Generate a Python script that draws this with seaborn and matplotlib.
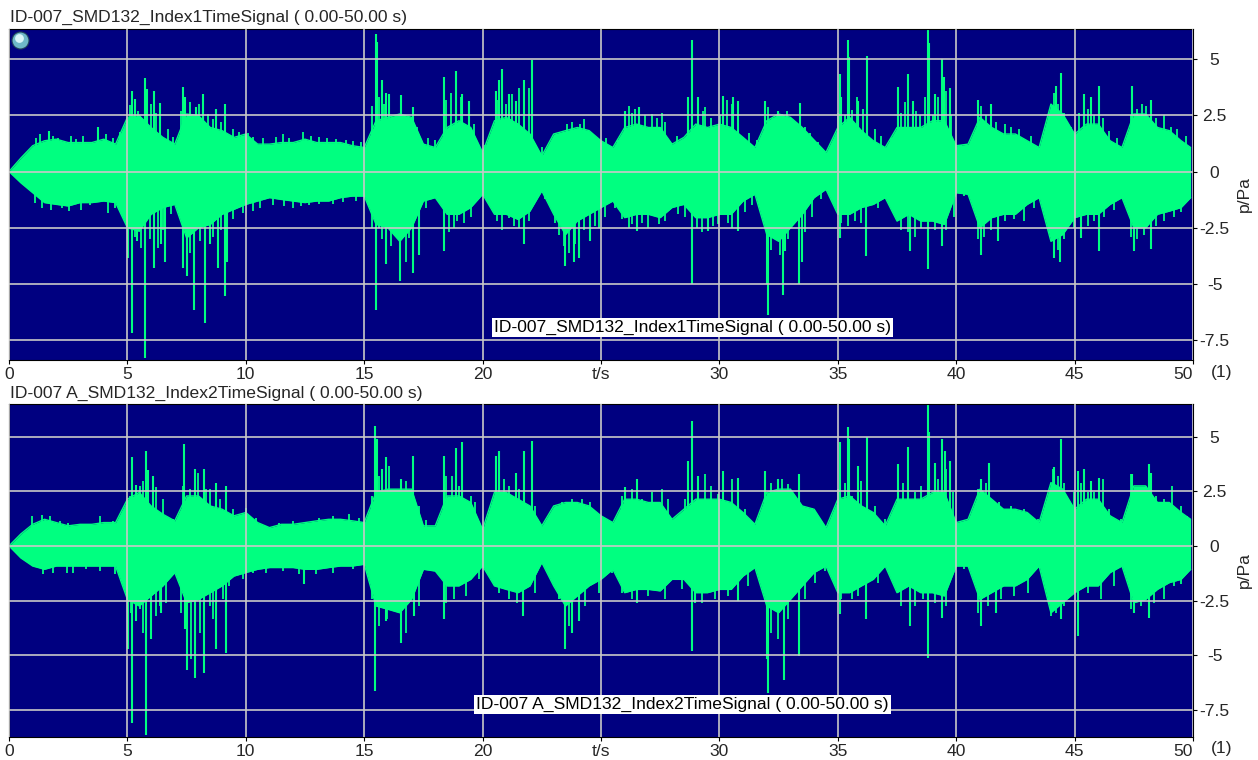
import numpy as np
import seaborn as sns
import matplotlib.pyplot as plt

sns.set_style('white')
plt.rcParams['font.family'] = ['Liberation Sans', 'DejaVu Sans']

BG = '#000080'
SIG = '#00FF80'
GRID = '#C8C8C8'

# envelope sample times (s)
env_t = np.append(np.arange(0, 50, 0.5), 49.9)

# ---------------- channel 1 ----------------
upper1 = [0, 0.6, 1.15, 1.37, 1.44, 1.29, 1.29, 1.29, 1.44, 1.22,
          2.41, 2.49, 1.96, 1.52, 1.22, 2.56, 2.49, 1.96, 1.82, 1.52,
          1.67, 1.22, 1.22, 1.29, 1.29, 1.44, 1.29, 1.29, 1.29, 1.15,
          1.07, 2.26, 2.41, 2.56, 2.41, 1.22, 1.07, 1.96, 2.26, 1.96,
          0.85, 2.26, 2.41, 2.11, 1.67, 0.70, 1.67, 1.82, 1.96, 1.82,
          1.37, 1.07, 1.96, 2.11, 1.96, 1.96, 1.22, 1.52, 2.11, 1.96,
          2.11, 1.96, 1.52, 1.07, 2.26, 2.56, 2.41, 1.96, 1.40, 0.85,
          1.96, 2.41, 1.82, 1.37, 1.07, 1.96, 1.96, 1.96, 2.26, 2.26,
          1.15, 1.22, 2.41, 1.96, 1.67, 1.67, 1.37, 1.07, 3.00, 2.56,
          1.67, 2.11, 2.11, 1.37, 1.07, 2.56, 2.56, 1.96, 1.82, 1.37,
          1.07]
lower1 = [0, -0.5, -0.94, -1.38, -1.46, -1.53, -1.38, -1.38, -1.31, -1.38,
          -2.5, -2.65, -1.9, -1.6, -1.46, -2.95, -2.5, -2.35, -1.9, -1.68,
          -1.46, -1.31, -1.16, -1.24, -1.31, -1.38, -1.31, -1.31, -1.16, -1.09,
          -1.09, -2.35, -2.5, -3.1, -2.5, -1.31, -1.16, -1.9, -1.9, -1.6,
          -1.01, -1.9, -1.9, -2.13, -1.76, -0.86, -1.9, -2.8, -2.2, -1.9,
          -1.6, -1.31, -2.05, -1.9, -1.9, -2.05, -1.6, -1.46, -2.05, -2.05,
          -1.9, -1.9, -1.31, -1.01, -2.8, -3.1, -2.5, -1.9, -1.16, -0.79,
          -1.9, -1.9, -1.6, -1.46, -1.16, -2.2, -1.9, -2.2, -2.2, -2.35,
          -0.94, -1.01, -2.5, -2.05, -1.9, -1.9, -1.46, -1.16, -3.1, -2.8,
          -2.05, -1.9, -1.9, -1.46, -1.16, -2.5, -2.5, -1.9, -1.76, -1.6,
          -1.16]

# big peaks
peak_up1_t = [1.70, 3.74, 5.21, 5.31, 5.76, 5.81, 6.11, 6.36, 7.35, 7.44, 7.88, 8.19,
              8.75, 9.14, 15.49, 15.53, 15.74, 15.91, 16.05, 16.55, 17.06, 18.37,
              18.86, 19.14, 19.42, 20.55, 20.69, 20.83, 21.11, 21.39, 21.74, 22.07,
              26.03, 26.59, 28.69, 28.83, 29.10, 30.17, 30.59, 30.80, 31.92, 32.49,
              33.40, 35.08, 35.15, 35.41, 35.47, 35.86, 36.25, 37.54, 37.96, 38.17,
              38.81, 38.85, 39.09, 39.41, 39.48, 39.72, 40.90, 41.46, 44.21, 44.42,
              45.41, 45.69, 46.04, 47.44, 48.22]
peak_up1_v = [1.82, 2.0, 3.6, 3.24, 4.17, 3.69, 3.6, 3.04, 3.75, 3.3, 2.86, 3.45,
              2.8, 3.0, 6.13, 5.75, 4.05, 3.5, 3.45, 3.4, 2.86, 4.2,
              4.46, 3.45, 3.15, 3.6, 4.05, 4.55, 3.45, 3.15, 4.05, 4.94,
              2.68, 2.86, 3.3, 5.83, 3.3, 3.38, 3.3, 3.15, 3.15, 2.7,
              3.07, 4.35, 3.3, 5.83, 5.1, 3.15, 5.15, 3.75, 4.35, 3.15,
              6.37, 5.7, 3.45, 5.0, 4.2, 3.7, 3.2, 3.0, 3.8, 4.4,
              3.45, 3.3, 3.8, 3.8, 3.2]
peak_dn1_t = [5.04, 5.21, 5.39, 5.76, 6.11, 6.43, 6.60, 7.35, 7.53, 7.81, 8.26, 8.47,
              8.82, 9.14, 9.21, 15.49, 15.63, 15.94, 16.52, 17.06, 17.32, 18.37,
              21.74, 23.50, 23.85, 24.06, 24.55, 26.52, 28.83, 29.53, 30.80, 32.00,
              32.07, 32.70, 32.77, 33.37, 33.47, 35.08, 36.21, 38.03, 38.81, 39.40,
              41.06, 41.75, 44.14, 44.39, 45.27, 46.04, 47.52, 48.22]
peak_dn1_v = [-3.85, -7.2, -3.1, -8.3, -4.3, -3.24, -4.0, -4.3, -4.65, -6.15, -6.74, -3.24,
              -4.3, -5.55, -4.0, -6.15, -2.5, -4.13, -4.88, -4.52, -3.7, -3.55,
              -3.24, -4.2, -4.0, -3.85, -3.1, -2.65, -5.0, -2.65, -2.65, -5.0,
              -6.37, -5.48, -3.55, -5.0, -4.0, -2.95, -3.75, -3.55, -4.35, -3.3,
              -3.7, -3.1, -3.85, -4.0, -2.95, -3.55, -3.55, -3.45]

# smaller hairs along the envelope
hair_up1_t = [1.14, 1.33, 1.87, 2.08, 2.6, 2.85, 3.13, 4.09, 4.4, 4.7,
              5.1, 5.45, 6.01, 6.22, 6.71, 6.92, 7.28, 7.63, 8.02, 8.4,
              8.61, 8.96, 9.45, 9.73, 10.08, 10.29, 10.72, 11.28, 11.56, 11.84,
              12.4, 12.75, 13.1, 13.45, 13.8, 14.23, 14.51, 14.86, 15.35, 15.63,
              15.84,
              16.68, 17.25, 17.7, 18.0, 18.44, 18.65, 19.08, 19.63, 20.1, 20.61,
              20.97, 21.25, 21.53, 21.96, 22.5, 23.57, 23.78, 24.13, 24.27, 25.2,
              25.7, 26.17, 26.31, 26.45, 26.87, 27.15, 27.36, 27.57, 27.71, 28.2,
              29.32, 29.39, 29.66, 30.03, 30.31, 30.52, 31.23, 31.6, 32.06, 32.27,
              32.63, 32.84,
              33.61, 33.82, 34.17, 34.8, 35.0, 35.29, 35.58, 35.79, 36.07, 36.56,
              36.84, 37.26, 37.69, 37.83, 38.32, 38.46, 38.67, 39.02, 39.23, 39.58,
              39.8, 40.2, 40.63, 41.06, 41.27, 41.69, 42.04, 42.32, 42.67, 43.16,
              43.72, 44.14, 44.28, 44.56, 44.85, 45.2, 45.55, 45.83, 46.18, 46.46,
              46.81, 47.23, 47.37, 47.65, 47.86, 48.0, 48.42, 48.78, 49.06, 49.34,
              49.69]
hair_up1_v = [1.5, 1.67, 1.6, 1.5, 1.6, 1.45, 1.6, 1.65, 1.5, 1.75,
              2.95, 2.7, 3.0, 2.6, 1.9, 1.55, 2.7, 3.1, 3.0, 2.55,
              2.35, 2.2, 1.9, 1.75, 1.7, 1.55, 1.5, 1.55, 1.65, 1.5,
              1.75, 1.6, 1.55, 1.5, 1.45, 1.4, 1.35, 1.3, 2.9, 3.3,
              3.0,
              2.4, 2.0, 1.5, 1.4, 3.2, 3.5, 3.3, 2.1, 1.2, 3.2,
              3.0, 3.45, 3.7, 3.7, 1.1, 2.1, 2.2, 2.1, 2.35, 1.5,
              1.4, 2.9, 2.6, 2.8, 2.5, 2.55, 2.4, 2.6, 2.2, 1.6,
              2.7, 2.85, 2.4, 2.5, 3.2, 3.0, 1.7, 1.4, 2.85, 2.4,
              2.55, 2.7,
              2.0, 1.7, 1.3, 1.1, 2.6, 2.5, 2.75, 3.3, 2.8, 1.9,
              1.6, 1.5, 2.6, 3.1, 2.7, 2.5, 3.3, 2.5, 3.3, 3.6,
              2.5, 1.2, 1.2, 2.9, 2.5, 2.2, 2.1, 2.0, 1.9, 1.6,
              1.3, 3.5, 3.0, 2.6, 2.0, 2.6, 2.8, 2.5, 2.4, 1.8,
              1.5, 1.4, 2.5, 2.8, 3.0, 2.9, 2.4, 2.5, 2.0, 1.9,
              1.6]
hair_dn1_t = [1.08, 1.38, 1.76, 2.22, 2.54, 3.06, 3.41, 4.19, 4.47, 4.89,
              5.31, 5.59, 5.94, 6.29, 6.5, 6.85, 7.2, 7.63, 8.05, 8.61,
              8.96, 9.45, 9.87, 10.29, 10.58, 11.14, 11.63, 11.98, 12.33, 12.68,
              13.1, 13.67, 14.09, 14.65, 15.35, 15.77, 16.12,
              16.76, 16.9, 17.6, 18.58, 18.8, 18.94, 19.2, 19.5, 20.2, 20.61,
              20.83, 21.11, 21.32, 21.53, 21.96, 22.65, 23.07, 23.21, 23.43, 23.64,
              23.92, 24.27, 24.76, 24.9, 25.18, 25.61, 25.89, 26.17, 26.31, 26.73,
              27.0, 27.43, 27.71, 28.27, 28.55, 29.04, 29.25, 29.75, 29.96, 30.38,
              30.52, 31.08, 31.36, 31.78, 32.2, 32.41, 32.55, 32.9,
              33.61, 33.89, 34.31, 35.15, 35.43, 35.72, 36.0, 36.7, 37.4, 37.69,
              37.96, 38.24, 38.53, 39.09, 39.58, 39.89, 40.35, 40.9, 41.19, 41.46,
              42.04, 42.46, 42.88, 43.3, 44.0, 44.28, 44.56, 44.97, 45.55, 45.83,
              46.25, 46.67, 47.37, 47.65, 47.93, 48.42, 48.78, 49.2, 49.48]
hair_dn1_v = [-1.38, -1.6, -1.73, -1.6, -1.75, -1.7, -1.5, -1.83, -1.6, -1.5,
              -2.9, -3.4, -3.0, -3.4, -2.6, -1.9, -1.7, -3.6, -3.1, -2.9,
              -2.6, -2.1, -1.85, -1.75, -1.6, -1.5, -1.55, -1.6, -1.55, -1.5,
              -1.45, -1.45, -1.35, -1.3, -2.5, -3.0, -3.3,
              -4.0, -2.95, -1.6, -2.7, -2.5, -2.2, -2.3, -2.0, -1.3, -2.2,
              -2.6, -2.05, -2.4, -2.5, -2.2, -1.2, -2.3, -2.8, -3.3, -3.6,
              -3.2, -2.6, -2.4, -2.5, -2.0, -1.6, -2.1, -2.5, -2.35, -2.3,
              -2.5, -2.35, -2.2, -1.9, -2.0, -2.5, -2.7, -2.4, -2.35, -2.3,
              -2.5, -1.8, -1.5, -1.4, -3.5, -3.0, -3.7, -3.0,
              -2.7, -2.0, -1.2, -2.3, -2.4, -2.2, -2.3, -1.6, -1.5, -2.6,
              -2.7, -2.9, -2.5, -2.6, -2.6, -2.0, -1.1, -3.0, -2.9, -2.6,
              -2.2, -2.1, -2.2, -1.6, -2.9, -3.5, -3.0, -2.5, -2.4, -2.2,
              -2.0, -1.7, -2.9, -3.0, -2.8, -2.4, -2.2, -2.0, -1.8]

# ---------------- channel 2 ----------------
upper2 = [0, 0.55, 0.99, 1.22, 1.07, 0.92, 0.99, 0.99, 1.07, 1.07,
          2.14, 2.45, 1.83, 1.45, 1.15, 2.29, 2.29, 1.83, 1.68, 1.38,
          1.53, 1.07, 0.84, 0.99, 0.99, 1.07, 1.15, 1.22, 1.22, 1.15,
          1.07, 2.45, 2.6, 2.6, 2.6, 0.92, 0.92, 2.29, 2.29, 1.99,
          0.76, 2.45, 2.45, 2.14, 1.83, 0.92, 1.83, 1.99, 1.99, 1.83,
          1.38, 1.07, 2.14, 2.14, 1.99, 1.99, 1.22, 1.68, 2.14, 2.14,
          2.14, 1.99, 1.53, 0.99, 2.45, 2.6, 2.6, 1.83, 1.68, 0.84,
          2.14, 2.29, 1.83, 1.53, 0.92, 2.14, 2.14, 2.14, 2.45, 2.45,
          1.07, 1.22, 2.6, 2.14, 1.68, 1.68, 1.53, 1.07, 2.9, 2.6,
          1.68, 2.14, 2.14, 1.38, 1.07, 2.75, 2.75, 1.99, 1.99, 1.53,
          1.22]
lower2 = [0, -0.55, -0.92, -1.07, -0.92, -0.92, -0.92, -0.92, -0.92, -0.92,
          -2.45, -2.75, -2.29, -1.83, -1.22, -2.6, -2.45, -2.14, -1.83, -1.38,
          -1.22, -1.07, -0.99, -0.99, -0.99, -1.07, -1.07, -0.99, -0.92, -0.92,
          -0.84, -2.75, -2.9, -3.06, -2.45, -1.07, -1.15, -1.83, -1.83, -1.53,
          -0.92, -1.83, -1.99, -2.14, -1.83, -0.76, -1.83, -2.75, -2.29, -1.83,
          -1.53, -1.07, -2.14, -1.99, -1.99, -2.06, -1.53, -1.53, -2.14, -2.14,
          -1.99, -1.99, -1.38, -0.99, -2.75, -3.06, -2.45, -1.83, -1.22, -0.92,
          -2.14, -2.14, -1.83, -1.53, -0.92, -2.14, -1.83, -2.14, -2.14, -2.29,
          -0.92, -0.92, -2.45, -2.14, -1.83, -1.83, -1.53, -0.92, -3.06, -2.6,
          -2.14, -1.83, -1.83, -1.22, -0.92, -2.6, -2.45, -1.99, -1.68, -1.53,
          -1.07]

peak_up2_t = [5.21, 5.35, 5.80, 5.87, 6.08, 7.39, 7.84, 8.22, 8.75, 9.17, 15.46, 15.52,
              15.74, 15.91, 16.54, 17.08, 18.37, 18.89, 19.14, 20.55, 20.69, 21.39,
              21.74, 22.07, 26.03, 26.52, 28.69, 28.83, 29.10, 30.17, 30.77, 31.92,
              32.49, 33.37, 35.08, 35.41, 35.47, 35.86, 36.22, 37.54, 37.96, 38.81,
              38.85, 39.09, 39.41, 39.51, 39.72, 41.05, 41.40, 44.14, 44.42, 45.13,
              45.41, 45.69, 46.04, 47.44, 48.15, 48.22]
peak_up2_v = [4.05, 2.8, 4.36, 3.46, 3.21, 4.66, 3.52, 3.52, 2.9, 2.75, 5.5, 4.9,
              3.52, 4.05, 3.06, 4.13, 4.13, 4.5, 4.74, 4.13, 4.36, 3.36,
              4.36, 4.82, 2.68, 3.06, 3.9, 5.73, 3.21, 3.44, 3.13, 3.44,
              3.06, 3.29, 4.74, 5.43, 4.89, 3.67, 4.97, 3.75, 4.51, 6.5,
              5.2, 3.82, 4.89, 4.36, 3.9, 3.06, 3.82, 3.6, 4.89, 3.44,
              3.52, 2.98, 3.13, 3.29, 3.75, 3.36]
peak_dn2_t = [5.04, 5.21, 5.38, 5.80, 6.01, 6.43, 7.42, 7.53, 7.84, 8.22, 8.75, 9.17,
              12.47, 15.46, 15.91, 16.54, 17.11, 18.37, 21.70, 23.50, 23.78, 24.06,
              26.52, 28.83, 28.97, 30.80, 32.00, 32.04, 32.74, 33.37, 35.08, 36.21,
              38.03, 38.81, 39.40, 41.06, 41.69, 44.42, 45.13, 47.52, 48.15]
peak_dn2_v = [-4.74, -8.1, -3.44, -8.65, -4.28, -3.06, -3.82, -5.66, -6.04, -5.81, -4.74, -4.89,
              -1.76, -6.65, -3.44, -4.43, -3.21, -3.36, -3.21, -4.74, -3.98, -3.44,
              -2.6, -4.82, -2.6, -2.52, -5.2, -6.73, -6.12, -5.05, -3.13, -3.36,
              -3.67, -5.12, -3.29, -3.67, -3.06, -3.36, -4.13, -3.06, -3.29]

hair_up2_t = [0.96, 1.38, 1.73, 2.15, 2.5, 2.99, 3.41, 3.83, 4.4, 5.1,
              5.52, 5.66, 6.22, 6.5, 6.92, 7.35, 7.63, 7.98, 8.33, 8.47,
              8.89, 9.45, 10.01, 10.44, 10.86, 11.42, 11.98, 12.54, 13.1, 13.67,
              14.37, 14.79, 15.35, 15.63, 16.05,
              16.76, 17.32, 17.6, 18.44, 18.72, 19.0, 19.49, 19.7, 20.9, 21.12,
              21.53, 22.22, 22.64, 23.06, 23.34, 23.76, 24.2, 24.55, 25.04, 25.46,
              25.88, 26.31, 26.73, 27.15, 27.57, 27.85, 28.27, 28.55, 29.39, 29.66,
              29.94, 30.52, 31.08, 31.57, 32.2, 32.63, 32.91,
              33.61, 33.89, 34.31, 34.73, 35.0, 35.29, 35.58, 36.0, 36.56, 36.98,
              37.4, 37.75, 38.24, 38.53, 39.23, 39.58, 39.86, 40.2, 40.63, 40.9,
              41.27, 41.8, 42.32, 42.88, 43.44, 44.07, 44.28, 44.56, 44.97, 45.27,
              45.55, 45.83, 46.18, 46.46, 46.96, 47.37, 47.65, 47.93, 48.42, 48.78,
              49.13, 49.48, 49.76]
hair_up2_v = [1.38, 1.4, 1.38, 1.15, 1.07, 0.99, 0.99, 1.38, 1.15, 2.29,
              2.75, 2.98, 2.68, 2.14, 1.22, 2.75, 2.6, 3.36, 2.6, 2.6,
              2.14, 1.68, 1.76, 1.3, 0.92, 1.07, 1.15, 1.07, 1.3, 1.38,
              1.45, 1.3, 2.29, 3.21, 3.67,
              2.98, 1.83, 1.2, 3.21, 3.21, 2.75, 2.29, 1.99, 3.06, 2.75,
              2.6, 1.83, 0.84, 1.68, 1.99, 2.14, 2.14, 1.99, 1.3, 1.07,
              2.29, 2.6, 2.14, 2.45, 2.6, 2.14, 1.3, 2.14, 3.29, 2.75,
              2.37, 3.06, 1.68, 1.15, 2.9, 3.06, 2.83,
              1.68, 1.76, 1.07, 0.84, 2.6, 2.9, 2.29, 2.98, 1.83, 1.22,
              1.68, 2.9, 2.45, 2.75, 3.06, 3.52, 2.45, 0.92, 1.07, 2.6,
              2.9, 1.99, 1.83, 1.68, 1.22, 3.52, 3.21, 2.9, 2.45, 2.9,
              2.45, 2.45, 3.06, 1.68, 1.22, 3.29, 2.6, 2.45, 2.29, 2.14,
              2.75, 1.83, 1.38]
hair_dn2_t = [1.45, 1.87, 2.43, 2.71, 3.27, 3.83, 4.47, 5.17, 5.52, 5.66,
              6.22, 6.36, 6.64, 7.28, 7.7, 8.05, 8.47, 8.61, 9.03, 9.31,
              9.87, 10.29, 10.86, 11.56, 12.26, 12.96, 13.67, 14.51, 15.35, 15.63,
              15.98,
              16.76, 17.32, 18.44, 18.79, 19.28, 19.84, 20.69, 21.12, 21.46, 22.22,
              23.22, 23.64, 24.34, 24.9, 25.46, 25.88, 26.31, 27.0, 27.71, 28.41,
              29.25, 29.81, 30.38, 31.22, 31.78, 32.2, 32.49, 32.91,
              33.61, 34.03, 34.45, 35.15, 35.58, 35.86, 36.7, 37.4, 37.69, 38.24,
              38.6, 39.09, 39.58, 40.35, 40.9, 41.33, 41.89, 42.46, 43.02, 44.0,
              44.21, 44.56, 45.55, 46.11, 46.67, 47.37, 47.79, 48.35, 48.78, 49.2,
              49.48]
hair_dn2_v = [-1.3, -1.22, -1.22, -1.22, -1.07, -1.15, -1.3, -3.06, -2.9, -3.98,
              -3.21, -2.75, -2.6, -3.06, -5.2, -3.98, -2.75, -3.36, -2.45, -1.83,
              -1.53, -1.22, -1.22, -1.15, -1.3, -1.3, -1.22, -1.07, -2.45, -3.67,
              -3.36,
              -3.98, -2.75, -2.6, -2.45, -2.29, -1.53, -2.14, -2.45, -2.6, -2.14,
              -2.45, -3.67, -2.75, -2.14, -1.22, -2.14, -2.45, -2.29, -2.45, -1.99,
              -2.6, -2.45, -2.29, -1.83, -1.22, -3.98, -4.28, -3.36,
              -2.45, -1.68, -1.15, -2.45, -2.45, -2.29, -1.68, -1.38, -2.75, -2.75,
              -2.45, -2.6, -2.75, -1.07, -3.06, -2.75, -2.45, -2.29, -2.14, -3.21,
              -3.06, -2.75, -2.14, -2.45, -1.83, -2.9, -2.75, -2.6, -2.45, -1.83,
              -1.76]

ytick_vals = [5, 2.5, 0, -2.5, -5, -7.5]
ytick_text = ['5', '2.5', '0', '-2.5', '-5', '-7.5']
xtick_vals = [0, 5, 10, 15, 20, 25, 30, 35, 40, 45, 50]
xtick_text = ['0', '5', '10', '15', '20', 't/s', '30', '35', '40', '45', '50']

titles = ['ID-007_SMD132_Index1TimeSignal ( 0.00-50.00 s)',
          'ID-007 A_SMD132_Index2TimeSignal ( 0.00-50.00 s)']

FS = 12.6


def draw_panel(ax, upper, lower, spikes, ylim, name, name_x):
    ax.set_facecolor(BG)
    ax.fill_between(env_t, lower, upper, color=SIG, lw=0, zorder=1)
    sns.lineplot(x=env_t, y=upper, ax=ax, color=SIG, lw=1.0, estimator=None, sort=False, zorder=1)
    sns.lineplot(x=env_t, y=lower, ax=ax, color=SIG, lw=1.0, estimator=None, sort=False, zorder=1)
    for (st, sv), lw in zip(spikes, [1.5, 1.5, 1.3, 1.3]):
        ax.vlines(st, 0, sv, color=SIG, lw=lw, zorder=1.5)

    ax.set_xlim(0, 50)
    ax.set_ylim(*ylim)
    ax.set_axisbelow(False)
    ax.grid(True, color=GRID, lw=1.2, zorder=2.5)

    ax.set_xticks(xtick_vals)
    ax.set_xticklabels(xtick_text)
    ax.get_xticklabels()[-1].set_ha('right')
    ax.set_yticks(ytick_vals)
    ax.set_yticklabels(ytick_text)
    ax.yaxis.tick_right()
    ax.yaxis.set_label_position('right')
    ax.tick_params(axis='both', direction='out', length=3, width=0.8, color='black',
                   labelsize=FS, pad=2, bottom=True, right=True, left=False)
    ax.tick_params(axis='y', pad=12.5)
    for lbl in ax.get_yticklabels():
        lbl.set_ha('center')
    ax.set_ylabel('p/Pa', fontsize=FS, labelpad=5)
    ax.set_xlabel('')
    for s in ax.spines.values():
        s.set_color('black')
        s.set_linewidth(0.8)

    ax.text(name_x, 0.098, name, transform=ax.transAxes, ha='center', va='center',
            fontsize=FS, color='black', zorder=5,
            bbox=dict(facecolor='white', edgecolor='none', pad=1.5))


fig = plt.figure(figsize=(12.58, 7.6), dpi=100)
ax1 = fig.add_axes([9 / 1258, 1 - 360 / 760, 1184 / 1258, 331 / 760])
ax2 = fig.add_axes([9 / 1258, 1 - 737 / 760, 1184 / 1258, 333 / 760])

draw_panel(ax1, upper1, lower1,
           [(peak_up1_t, peak_up1_v), (peak_dn1_t, peak_dn1_v),
            (hair_up1_t, hair_up1_v), (hair_dn1_t, hair_dn1_v)],
           (-8.38, 6.34), titles[0], 0.577)
draw_panel(ax2, upper2, lower2,
           [(peak_up2_t, peak_up2_v), (peak_dn2_t, peak_dn2_v),
            (hair_up2_t, hair_up2_v), (hair_dn2_t, hair_dn2_v)],
           (-8.75, 6.5), titles[1], 0.569)

# little status lamp in the top panel
ax1.scatter([0.0093], [0.967], transform=ax1.transAxes, s=150, color='#6fb8c8',
            edgecolor='#20405a', lw=0.8, zorder=6, clip_on=False)
ax1.scatter([0.0085], [0.972], transform=ax1.transAxes, s=40, color='#d8f4f8',
            lw=0, zorder=7, clip_on=False)

fig.text(10 / 1258, 1 - 17 / 760, titles[0], ha='left', va='center', fontsize=FS)
fig.text(10 / 1258, 1 - 393 / 760, titles[1], ha='left', va='center', fontsize=FS)
fig.text(1222 / 1258, 1 - 372 / 760, '(1)', ha='center', va='center', fontsize=FS)
fig.text(1222 / 1258, 1 - 748 / 760, '(1)', ha='center', va='center', fontsize=FS)

fig.savefig('out.png', dpi=100, facecolor='white')
